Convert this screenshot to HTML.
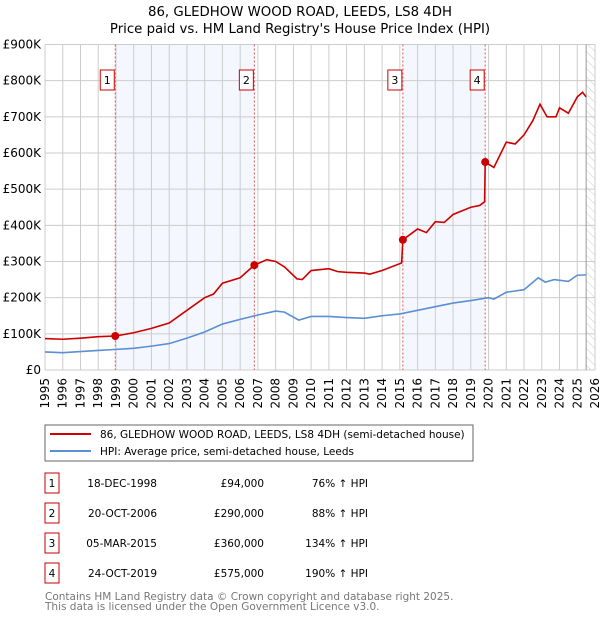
<!DOCTYPE html>
<html><head><meta charset="utf-8"><style>
body{margin:0;background:#fff;font-family:"DejaVu Sans","Liberation Sans",sans-serif;}
svg text{font-family:"DejaVu Sans","Liberation Sans",sans-serif;}
</style></head><body>
<svg id="c" width="600" height="620" xmlns="http://www.w3.org/2000/svg">
<defs><pattern id="hatch" width="6" height="6" patternUnits="userSpaceOnUse" patternTransform="rotate(-45)"><line x1="0" y1="0" x2="0" y2="6" stroke="#ccc" stroke-width="1"/></pattern></defs>
<text x="300" y="16" text-anchor="middle" font-size="13.3">86, GLEDHOW WOOD ROAD, LEEDS, LS8 4DH</text>
<text x="300" y="33" text-anchor="middle" font-size="13.3">Price paid vs. HM Land Registry's House Price Index (HPI)</text>
<g id="plot"></g>
<rect x="45" y="425" width="428" height="36" fill="#fff" stroke="#666"/>
<line x1="50" y1="434" x2="91" y2="434" stroke="#cc0000" stroke-width="2"/>
<text x="100" y="438" font-size="10.5">86, GLEDHOW WOOD ROAD, LEEDS, LS8 4DH (semi-detached house)</text>
<line x1="50" y1="451" x2="91" y2="451" stroke="#5b8fd4" stroke-width="2"/>
<text x="100" y="455" font-size="10.5">HPI: Average price, semi-detached house, Leeds</text>
<g id="table"></g>
<text x="45" y="600" font-size="10.5" fill="#777">Contains HM Land Registry data © Crown copyright and database right 2025.</text>
<text x="45" y="610" font-size="10.5" fill="#777">This data is licensed under the Open Government Licence v3.0.</text>
</svg>
<script>
const yTicks=[0,100,200,300,400,500,600,700,800,900];
const yTickLabels=["£0","£100K","£200K","£300K","£400K","£500K","£600K","£700K","£800K","£900K"];
const years=[1995,1996,1997,1998,1999,2000,2001,2002,2003,2004,2005,2006,2007,2008,2009,2010,2011,2012,2013,2014,2015,2016,2017,2018,2019,2020,2021,2022,2023,2024,2025,2026];
const hpiT=[1995,1996,1997,1998,1999,2000,2001,2002,2003,2004,2005,2006,2007,2008,2008.5,2009.3,2010,2011,2012,2013,2014,2015,2016,2017,2018,2019,2020,2020.3,2021,2022,2022.8,2023.2,2023.7,2024.5,2025,2025.5];
const hpiV=[50,48,51,54,57,60,66,73,88,105,127,140,152,163,160,138,148,148,145,143,150,155,165,175,185,192,200,196,215,222,255,243,250,245,262,263];
const redT=[1995,1996,1997,1998,1998.96,2000,2001,2002,2003,2004,2004.5,2005,2006,2006.8,2007.5,2008,2008.5,2009.2,2009.5,2010,2011,2011.5,2012,2013,2013.3,2014,2015.1,2015.17,2016,2016.5,2017,2017.5,2018,2018.5,2019,2019.5,2019.78,2019.81,2020.3,2021,2021.5,2022,2022.5,2022.9,2023.3,2023.8,2024,2024.5,2025,2025.3,2025.5];
const redV=[87,85,88,92,94,103,115,130,165,200,210,240,255,290,305,300,285,252,250,275,280,272,270,268,265,275,296,360,390,380,410,408,430,440,450,455,465,575,560,630,625,650,690,735,700,700,725,710,755,768,755];
const saleT=[1998.96,2006.8,2015.17,2019.81];
const saleV=[94,290,360,575];
const saleLabels=["1","2","3","4"];
const saleDates=["18-DEC-1998","20-OCT-2006","05-MAR-2015","24-OCT-2019"];
const salePrices=["£94,000","£290,000","£360,000","£575,000"];
const saleHpi=["76% ↑ HPI","88% ↑ HPI","134% ↑ HPI","190% ↑ HPI"];
const X0=45,X1=595,Y0=370,Y1=44.5;
const xs=t=>X0+(t-1995)*(X1-X0)/31;
const ys=v=>Y0-v*(Y0-Y1)/900;
const NS="http://www.w3.org/2000/svg";
const plot=document.getElementById('plot');
function mk(tag,attrs,parent,txt){const e=document.createElementNS(NS,tag);for(const k in attrs)e.setAttribute(k,attrs[k]);if(txt!==undefined)e.textContent=txt;(parent||plot).appendChild(e);return e;}
for(let i=0;i<4;i+=2){
 const r=mk('rect',{x:xs(saleT[i]),y:Y1,width:xs(saleT[i+1])-xs(saleT[i]),height:Y0-Y1,fill:'#f4f7fe'});
 
 
}
const h=mk('rect',{x:xs(2025.5),y:Y1,width:X1-xs(2025.5),height:Y0-Y1,fill:'url(#hatch)'});


years.forEach(y=>{
 const l=mk('line',{x1:xs(y),x2:xs(y),y1:Y1,y2:Y0,stroke:'#ccc','stroke-width':1});
 
 
 const t=mk('text',{x:0,y:0,'font-size':12,'text-anchor':'end',transform:`translate(${xs(y)+4},${Y0+8}) rotate(-90)`},plot,String(y));
 
 
});
yTicks.forEach((v,i)=>{
 const l=mk('line',{x1:X0,x2:X1,y1:ys(v),y2:ys(v),stroke:'#ccc','stroke-width':1});
 
 
 const t=mk('text',{x:X0-4,y:ys(v)+4,'font-size':12,'text-anchor':'end'},plot,yTickLabels[i]);
 
 
});
const vl=mk('line',{x1:xs(2025.5),x2:xs(2025.5),y1:Y1,y2:Y0,stroke:'#999','stroke-width':1});


saleT.forEach((t,i)=>{
 const l=mk('line',{x1:xs(t),x2:xs(t),y1:Y1,y2:Y0,stroke:'#e05555','stroke-width':1,'stroke-dasharray':'2,2'});
 
 
 const b=mk('rect',{x:xs(t)-15,y:70,width:14,height:20,fill:'#fff',stroke:'#cc0000'});
 
 
 const tx=mk('text',{x:xs(t)-8,y:84,'font-size':11,'text-anchor':'middle'},plot,saleLabels[i]);
 
 
});
const hp=mk('polyline',{points:hpiT.map((t,i)=>xs(t)+','+ys(hpiV[i])).join(' '),fill:'none',stroke:'#5b8fd4','stroke-width':1.6});


const rp=mk('polyline',{points:redT.map((t,i)=>xs(t)+','+ys(redV[i])).join(' '),fill:'none',stroke:'#cc0000','stroke-width':1.6});


saleT.forEach((t,i)=>{
 const c=mk('circle',{cx:xs(t),cy:ys(saleV[i]),r:4,fill:'#cc0000'});
 
 
});
const tb=document.getElementById('table');
saleT.forEach((t,i)=>{
 const y=483+i*30;
 const b=mk('rect',{x:45,y:y-10,width:14,height:20,fill:'#fff',stroke:'#cc0000'},tb);
 
 
 const n=mk('text',{x:52,y:y+4,'font-size':10.5,'text-anchor':'middle'},tb,saleLabels[i]);
 
 
 const d=mk('text',{x:157,y:y+4,'font-size':10.5,'text-anchor':'end'},tb,saleDates[i]);
 
 
 const p=mk('text',{x:264,y:y+4,'font-size':10.5,'text-anchor':'end'},tb,salePrices[i]);
 
 
 const hh=mk('text',{x:368,y:y+4,'font-size':10.5,'text-anchor':'end'},tb,saleHpi[i]);
 
 
});
</script>
</body></html>
